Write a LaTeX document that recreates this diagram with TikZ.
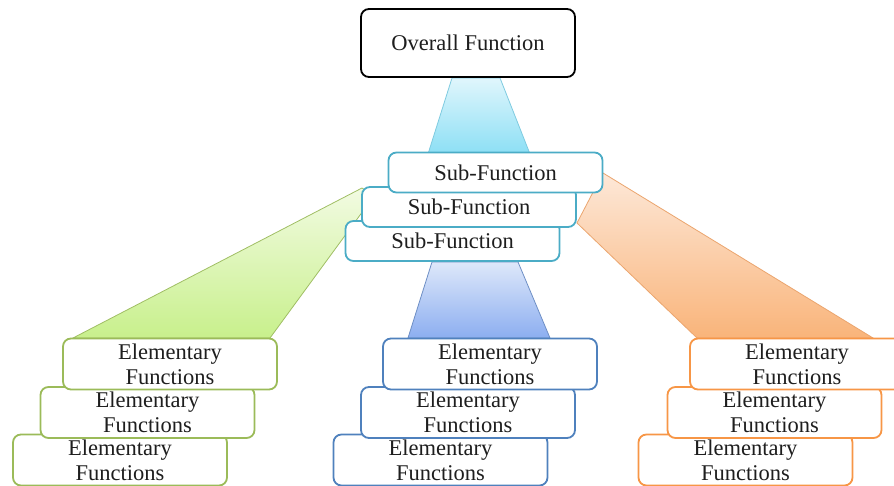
\documentclass[tikz,border=0pt]{standalone}
\usepackage{fontspec}
\setmainfont{Liberation Serif}
\usetikzlibrary{calc}
\definecolor{cyanB}{HTML}{4BACC6}
\definecolor{greenB}{HTML}{9BBB59}
\definecolor{blueB}{HTML}{4F81BD}
\definecolor{orangeB}{HTML}{F79646}
\definecolor{txt}{HTML}{1E1E1E}
\tikzset{
  box/.style={draw, line width=1.8pt, rounded corners=8pt, fill=white, align=center,
    minimum width=214pt, inner sep=0pt, text=txt, font=\fontsize{22.5}{25}\selectfont},
  topbox/.style={box, draw=black, minimum height=68pt},
  subbox/.style={box, draw=cyanB, minimum height=40pt},
  elbox/.style={box, minimum height=51pt},
  gbox/.style={elbox, draw=greenB},
  bbox/.style={elbox, draw=blueB},
  obox/.style={elbox, draw=orangeB},
  fan/.style={line width=0.8pt},
}
\begin{document}
\begin{tikzpicture}[x=1pt,y=-1pt]
\useasboundingbox (0,0) rectangle (894,486);
% fans
\shade[fan, draw={rgb,255:red,127;green,203;blue,224}, top color={rgb,255:red,224;green,246;blue,252}, bottom color={rgb,255:red,140;green,223;blue,245}]
  (452,78) -- (500,78) -- (530,154) -- (428,154) -- cycle;
\shade[fan, draw={rgb,255:red,160;green,190;blue,100}, top color={rgb,255:red,242;green,251;blue,226}, bottom color={rgb,255:red,200;green,240;blue,140}]
  (362,188) -- (374,196) -- (270,338) -- (73,338) -- cycle;
\shade[fan, draw={rgb,255:red,235;green,165;blue,110}, top color={rgb,255:red,253;green,232;blue,216}, bottom color={rgb,255:red,249;green,180;blue,122}]
  (603,173) -- (873,338) -- (697,338) -- (577,223) -- cycle;
\shade[fan, draw={rgb,255:red,110;green,143;blue,197}, top color={rgb,255:red,222;green,232;blue,250}, bottom color={rgb,255:red,140;green,174;blue,240}]
  (432,262) -- (518,262) -- (550,338) -- (408,338) -- cycle;
% top
\node[topbox] (overall) at (468,43) {Overall Function};
% sub-functions (back to front)
\node[subbox] (sf3) at (452.5,241) {Sub-Function};
\node[subbox] (sf2) at (469,207) {Sub-Function};
\node[subbox] (sf1) at (495.5,172.5) {Sub-Function};
% green stack
\node[gbox] (g3) at (120,460) {Elementary\\Functions};
\node[gbox] (g2) at (147.5,412.5) {Elementary\\Functions};
\node[gbox] (g1) at (170,364) {Elementary\\Functions};
% blue stack
\node[bbox] (b3) at (440.5,460) {Elementary\\Functions};
\node[bbox] (b2) at (468,412.5) {Elementary\\Functions};
\node[bbox] (b1) at (490,364) {Elementary\\Functions};
% orange stack
\node[obox] (o3) at (745.5,460) {Elementary\\Functions};
\node[obox] (o2) at (774.5,412.5) {Elementary\\Functions};
\node[obox] (o1) at (797,364) {Elementary\\Functions};
\end{tikzpicture}
\end{document}
